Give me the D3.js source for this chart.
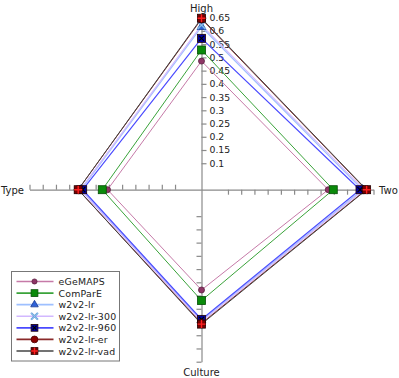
<!DOCTYPE html>
<html>
<head>
<meta charset="utf-8">
<script src="https://cdn.jsdelivr.net/npm/d3@7"></script>
<style>
  body { margin: 0; background: #fff; }
  svg { display: block; font-family: "DejaVu Sans", sans-serif; }
</style>
</head>
<body>
<script>
"use strict";

// axes, clockwise from the top
const axes = ["High", "Two", "Culture", "Type"];
const tickValues = [0.1, 0.15, 0.2, 0.25, 0.3, 0.35, 0.4, 0.45, 0.5, 0.55, 0.6, 0.65];
const seriesNames = ["eGeMAPS", "ComParE", "w2v2-lr", "w2v2-lr-300", "w2v2-lr-960", "w2v2-lr-er", "w2v2-lr-vad"];

// values per series, in the axes order: High, Two, Culture, Type
const eGeMAPS   = [0.486, 0.479, 0.379, 0.355];
const ComParE   = [0.528, 0.498, 0.419, 0.375];
const w2v2lr    = [0.615, 0.608, 0.494, 0.455];
const w2v2lr300 = [0.622, 0.614, 0.499, 0.458];
const w2v2lr960 = [0.572, 0.599, 0.490, 0.449];
const w2v2lrEr  = [0.645, 0.622, 0.505, 0.466];
const w2v2lrVad = [0.648, 0.624, 0.508, 0.466];

const seriesValues = [eGeMAPS, ComParE, w2v2lr, w2v2lr300, w2v2lr960, w2v2lrEr, w2v2lrVad];

const styles = [
  {line: "#c67aa8", lw: 1, marker: "circle", fill: "#8e3566", stroke: "#5a1f40", size: 3},
  {line: "#3aa33a", lw: 1, marker: "square", fill: "#0a8a0a", stroke: "#064d06", size: 8},
  {line: "#9ec0ff", lw: 1.2, marker: "triangle", fill: "#2f62d8", stroke: "#1a3a90", size: 8},
  {line: "#d2b8ff", lw: 1.2, marker: "x", fill: "#a8d0f0", stroke: "#5a9ad8", size: 8},
  {line: "#4a4aff", lw: 1.2, marker: "squarex", fill: "#0000a0", stroke: "#000000", size: 8},
  {line: "#8a2a2a", lw: 1, marker: "circle", fill: "#8b0000", stroke: "#4a0000", size: 4},
  {line: "#444444", lw: 1, marker: "squareplus", fill: "#7a0000", stroke: "#ff2020", size: 8}
];

const width = 399, height = 378;
const cx = 201.5, cy = 189.7, R = 172;

const svg = d3.select("body").append("svg")
  .attr("width", width)
  .attr("height", height);

const r = d3.scaleLinear().domain([0, 0.65]).range([0, R]);
const angle = (i) => -Math.PI / 2 + i * Math.PI / 2;
const point = (v, i) => [cx + r(v) * Math.cos(angle(i)), cy + r(v) * Math.sin(angle(i))];

// axes
const axisColor = "#8a8a8a";
const g = svg.append("g");

// High: ticks + labels on the right
const yUp = d3.scaleLinear().domain([0, 0.65]).range([cy, cy - R]);
g.append("g")
  .attr("transform", `translate(${cx},0)`)
  .call(d3.axisRight(yUp).tickValues(tickValues).tickSize(5).tickSizeOuter(0).tickPadding(3)
    .tickFormat(d3.format("")))
  .call(a => a.selectAll("line, path").attr("stroke", axisColor).attr("stroke-width", 1.2))
  .call(a => a.selectAll("text").attr("fill", "#222").attr("font-size", 9.3)
    .attr("font-family", "DejaVu Sans, sans-serif"));

// Two: ticks below
const xRight = d3.scaleLinear().domain([0, 0.65]).range([cx, cx + R]);
g.append("g")
  .attr("transform", `translate(0,${cy})`)
  .call(d3.axisBottom(xRight).tickValues(tickValues).tickSize(5).tickSizeOuter(0).tickFormat(""))
  .call(a => a.selectAll("line, path").attr("stroke", axisColor).attr("stroke-width", 1.2));

// Culture: ticks on the left
const yDown = d3.scaleLinear().domain([0, 0.65]).range([cy, cy + R]);
g.append("g")
  .attr("transform", `translate(${cx},0)`)
  .call(d3.axisLeft(yDown).tickValues(tickValues).tickSize(5).tickSizeOuter(0).tickFormat(""))
  .call(a => a.selectAll("line, path").attr("stroke", axisColor).attr("stroke-width", 1.2));

// Type: ticks above
const xLeft = d3.scaleLinear().domain([0, 0.65]).range([cx, cx - R]);
g.append("g")
  .attr("transform", `translate(0,${cy})`)
  .call(d3.axisTop(xLeft).tickValues(tickValues).tickSize(5).tickSizeOuter(0).tickFormat(""))
  .call(a => a.selectAll("line, path").attr("stroke", axisColor).attr("stroke-width", 1.2));

// axis names
const labelPos = [
  {x: cx, y: 12, anchor: "middle"},
  {x: 379, y: cy + 4, anchor: "start"},
  {x: cx, y: 376, anchor: "middle"},
  {x: 1, y: cy + 4, anchor: "start"}
];
svg.selectAll(".axis-name")
  .data(axes)
  .enter()
  .append("text")
    .attr("class", "axis-name")
    .attr("x", (d, i) => labelPos[i].x)
    .attr("y", (d, i) => labelPos[i].y)
    .attr("text-anchor", (d, i) => labelPos[i].anchor)
    .attr("font-size", 10)
    .attr("fill", "#222")
    .text(d => d);

// marker drawing
function drawMarker(sel, st, k = 1) {
  const s = st.size * k, h = s / 2;
  if (st.marker === "circle") {
    sel.append("circle").attr("r", s).attr("fill", st.fill).attr("stroke", st.stroke).attr("stroke-width", 0.8);
  } else if (st.marker === "square" || st.marker === "squarex" || st.marker === "squareplus") {
    sel.append("rect").attr("x", -h).attr("y", -h).attr("width", s).attr("height", s)
      .attr("fill", st.fill).attr("stroke", st.marker === "square" ? st.stroke : "#220000").attr("stroke-width", 0.8);
    if (st.marker === "squarex") {
      sel.append("path").attr("d", `M${-h + 1.5},${-h + 1.5}L${h - 1.5},${h - 1.5}M${-h + 1.5},${h - 1.5}L${h - 1.5},${-h + 1.5}`)
        .attr("stroke", st.stroke).attr("stroke-width", 1.2);
    } else if (st.marker === "squareplus") {
      sel.append("path").attr("d", `M0,${-h}V${h}M${-h},0H${h}`)
        .attr("stroke", st.stroke).attr("stroke-width", 1.4);
    }
  } else if (st.marker === "triangle") {
    sel.append("path").attr("d", d3.symbol(d3.symbolTriangle, 34 * k * k)())
      .attr("fill", st.fill).attr("stroke", st.stroke).attr("stroke-width", 0.8);
  } else if (st.marker === "x") {
    sel.append("path").attr("d", `M${-h},${-h}L${h},${h}M${-h},${h}L${h},${-h}`)
      .attr("stroke", st.stroke).attr("stroke-width", 2);
    sel.append("path").attr("d", `M${-h},${-h}L${h},${h}M${-h},${h}L${h},${-h}`)
      .attr("stroke", st.fill).attr("stroke-width", 0.8);
  }
}

// series polygons and markers
const lineGen = d3.line().curve(d3.curveLinearClosed);
seriesValues.forEach((vals, si) => {
  const st = styles[si];
  const pts = vals.map((v, i) => point(v, i));
  svg.append("path")
    .attr("d", lineGen(pts))
    .attr("fill", "none")
    .attr("stroke", st.line)
    .attr("stroke-width", st.lw);
});
seriesValues.forEach((vals, si) => {
  const st = styles[si];
  vals.forEach((v, i) => {
    const [x, y] = point(v, i);
    const m = svg.append("g").attr("transform", `translate(${x},${y})`);
    drawMarker(m, st);
  });
});

// legend
const legend = svg.append("g").attr("transform", "translate(11.5,271.5)");
legend.append("rect")
  .attr("width", 108)
  .attr("height", 89.5)
  .attr("fill", "#fff")
  .attr("stroke", "#777")
  .attr("stroke-width", 1);
const rowY = d3.scalePoint().domain(seriesNames).range([10, 79.5]);
seriesNames.forEach((name, si) => {
  const st = styles[si];
  const row = legend.append("g").attr("transform", `translate(0,${rowY(name)})`);
  row.append("line").attr("x1", 5).attr("x2", 42).attr("y1", 0).attr("y2", 0)
    .attr("stroke", st.line).attr("stroke-width", 1.6);
  drawMarker(row.append("g").attr("transform", "translate(23,0)"), st, 0.85);
  row.append("text").attr("x", 47).attr("y", 3.5)
    .attr("font-size", 9.4).attr("letter-spacing", 0.2).attr("fill", "#222").text(name);
});
</script>
</body>
</html>
